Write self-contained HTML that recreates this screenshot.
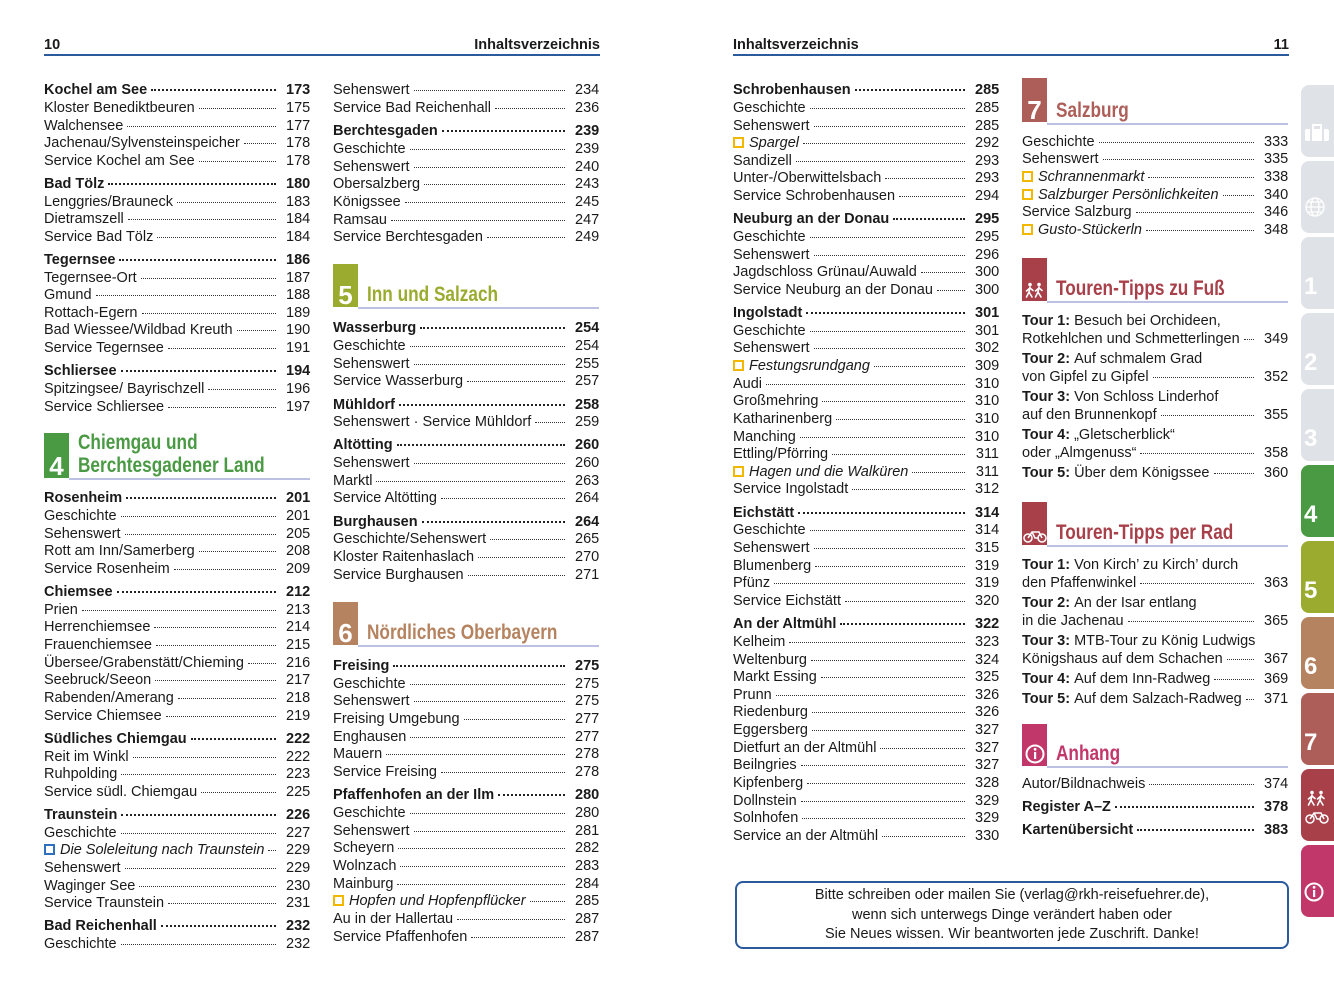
<!DOCTYPE html>
<html><head><meta charset="utf-8">
<style>
*{margin:0;padding:0;box-sizing:border-box}
body{width:1334px;height:1000px;background:#fff;position:relative;overflow:hidden;font-family:"Liberation Sans",sans-serif;color:#1a1a1a}
.hdr{position:absolute;top:37px;font-weight:bold;font-size:14.5px}
.hline{position:absolute;top:54px;height:2px;background:#2a5a9c}
.it{position:absolute;height:18px;display:flex;align-items:baseline;font-size:14.5px;line-height:18px;white-space:nowrap}
.it .ld{flex:1;border-bottom:1px dotted #333;margin:0 10px 0 4px;height:1px;transform:translateY(-3px)}
.it.b{font-weight:bold}
.it.b .ld{border-bottom:2px dotted #222}
.it .pg{width:24px;text-align:right}
.it i{font-style:italic}
.box{display:inline-block;width:11px;height:11px;border:2px solid #f2b800;margin-right:5px;transform:translateY(1px)}
.box.blue{border-color:#2e6fc0}
.hd{position:absolute}
.hd .sq{position:absolute;left:0;width:25px;color:#fff;font-weight:bold;font-size:26px;text-align:center}
.hd .tt{position:absolute;left:34px;font-weight:bold;font-size:21px;line-height:23px;white-space:nowrap;transform:scaleX(0.82);transform-origin:left center}
.hd .ul{position:absolute;height:2px;background:#bcc0e2}
.tab{position:absolute;left:1301px;width:40px;height:72px;border-radius:8px 0 0 8px;color:#fff;font-weight:bold;font-size:24px}
.tab span{position:absolute;left:3px;bottom:8px}
.note{position:absolute;left:735px;top:881px;width:554px;height:68px;border:2px solid #2a5a9c;border-radius:8px;text-align:center;font-size:14.5px;line-height:19.5px;padding-top:3px}
</style></head><body>
<div class="hdr" style="left:44px">10</div>
<div class="hdr" style="left:440px;width:160px;text-align:right">Inhaltsverzeichnis</div>
<div class="hline" style="left:44px;width:556px"></div>
<div class="hdr" style="left:733px">Inhaltsverzeichnis</div>
<div class="hdr" style="left:1250px;width:39px;text-align:right">11</div>
<div class="hline" style="left:733px;width:556px"></div>

<div class="note">Bitte schreiben oder mailen Sie (verlag@rkh-reisefuehrer.de),<br>wenn sich unterwegs Dinge verändert haben oder<br>Sie Neues wissen. Wir beantworten jede Zuschrift. Danke!</div>

<script>
const cols=[44,333,733,1022];
const W=266;
const entries=[
[0,'b','Kochel am See','173',89],[0,'n','Kloster Benediktbeuren','175',107],[0,'n','Walchensee','177',125],[0,'n','Jachenau/Sylvensteinspeicher','178',142],[0,'n','Service Kochel am See','178',160],
[0,'b','Bad Tölz','180',183],[0,'n','Lenggries/Brauneck','183',201],[0,'n','Dietramszell','184',218],[0,'n','Service Bad Tölz','184',236],
[0,'b','Tegernsee','186',259],[0,'n','Tegernsee-Ort','187',277],[0,'n','Gmund','188',294],[0,'n','Rottach-Egern','189',312],[0,'n','Bad Wiessee/Wildbad Kreuth','190',329],[0,'n','Service Tegernsee','191',347],
[0,'b','Schliersee','194',370],[0,'n','Spitzingsee/ Bayrischzell','196',388],[0,'n','Service Schliersee','197',406],
[0,'b','Rosenheim','201',497],[0,'n','Geschichte','201',515],[0,'n','Sehenswert','205',533],[0,'n','Rott am Inn/Samerberg','208',550],[0,'n','Service Rosenheim','209',568],
[0,'b','Chiemsee','212',591],[0,'n','Prien','213',609],[0,'n','Herrenchiemsee','214',626],[0,'n','Frauenchiemsee','215',644],[0,'n','Übersee/Grabenstätt/Chieming','216',662],[0,'n','Seebruck/Seeon','217',679],[0,'n','Rabenden/Amerang','218',697],[0,'n','Service Chiemsee','219',715],
[0,'b','Südliches Chiemgau','222',738],[0,'n','Reit im Winkl','222',756],[0,'n','Ruhpolding','223',773],[0,'n','Service südl. Chiemgau','225',791],
[0,'b','Traunstein','226',814],[0,'n','Geschichte','227',832],[0,'ib','Die Soleleitung nach Traunstein','229',849],[0,'n','Sehenswert','229',867],[0,'n','Waginger See','230',885],[0,'n','Service Traunstein','231',902],
[0,'b','Bad Reichenhall','232',925],[0,'n','Geschichte','232',943],
[1,'n','Sehenswert','234',89],[1,'n','Service Bad Reichenhall','236',107],
[1,'b','Berchtesgaden','239',130],[1,'n','Geschichte','239',148],[1,'n','Sehenswert','240',166],[1,'n','Obersalzberg','243',183],[1,'n','Königssee','245',201],[1,'n','Ramsau','247',219],[1,'n','Service Berchtesgaden','249',236],
[1,'b','Wasserburg','254',327],[1,'n','Geschichte','254',345],[1,'n','Sehenswert','255',363],[1,'n','Service Wasserburg','257',380],
[1,'b','Mühldorf','258',404],[1,'n','Sehenswert · Service Mühldorf','259',421],
[1,'b','Altötting','260',444],[1,'n','Sehenswert','260',462],[1,'n','Marktl','263',480],[1,'n','Service Altötting','264',497],
[1,'b','Burghausen','264',521],[1,'n','Geschichte/Sehenswert','265',538],[1,'n','Kloster Raitenhaslach','270',556],[1,'n','Service Burghausen','271',574],
[1,'b','Freising','275',665],[1,'n','Geschichte','275',683],[1,'n','Sehenswert','275',700],[1,'n','Freising Umgebung','277',718],[1,'n','Enghausen','277',736],[1,'n','Mauern','278',753],[1,'n','Service Freising','278',771],
[1,'b','Pfaffenhofen an der Ilm','280',794],[1,'n','Geschichte','280',812],[1,'n','Sehenswert','281',830],[1,'n','Scheyern','282',847],[1,'n','Wolnzach','283',865],[1,'n','Mainburg','284',883],[1,'i','Hopfen und Hopfenpflücker','285',900],[1,'n','Au in der Hallertau','287',918],[1,'n','Service Pfaffenhofen','287',936],
[2,'b','Schrobenhausen','285',89],[2,'n','Geschichte','285',107],[2,'n','Sehenswert','285',125],[2,'i','Spargel','292',142],[2,'n','Sandizell','293',160],[2,'n','Unter-/Oberwittelsbach','293',177],[2,'n','Service Schrobenhausen','294',195],
[2,'b','Neuburg an der Donau','295',218],[2,'n','Geschichte','295',236],[2,'n','Sehenswert','296',254],[2,'n','Jagdschloss Grünau/Auwald','300',271],[2,'n','Service Neuburg an der Donau','300',289],
[2,'b','Ingolstadt','301',312],[2,'n','Geschichte','301',330],[2,'n','Sehenswert','302',347],[2,'i','Festungsrundgang','309',365],[2,'n','Audi','310',383],[2,'n','Großmehring','310',400],[2,'n','Katharinenberg','310',418],[2,'n','Manching','310',436],[2,'n','Ettling/Pförring','311',453],[2,'i','Hagen und die Walküren','311',471],[2,'n','Service Ingolstadt','312',488],
[2,'b','Eichstätt','314',512],[2,'n','Geschichte','314',529],[2,'n','Sehenswert','315',547],[2,'n','Blumenberg','319',565],[2,'n','Pfünz','319',582],[2,'n','Service Eichstätt','320',600],
[2,'b','An der Altmühl','322',623],[2,'n','Kelheim','323',641],[2,'n','Weltenburg','324',659],[2,'n','Markt Essing','325',676],[2,'n','Prunn','326',694],[2,'n','Riedenburg','326',711],[2,'n','Eggersberg','327',729],[2,'n','Dietfurt an der Altmühl','327',747],[2,'n','Beilngries','327',764],[2,'n','Kipfenberg','328',782],[2,'n','Dollnstein','329',800],[2,'n','Solnhofen','329',817],[2,'n','Service an der Altmühl','330',835],
[3,'n','Geschichte','333',141],[3,'n','Sehenswert','335',158],[3,'i','Schrannenmarkt','338',176],[3,'i','Salzburger Persönlichkeiten','340',194],[3,'n','Service Salzburg','346',211],[3,'i','Gusto-Stückerln','348',229],
[3,'t','Tour 1:|Besuch bei Orchideen,','',320],[3,'n','Rotkehlchen und Schmetterlingen','349',338],
[3,'t','Tour 2:|Auf schmalem Grad','',358],[3,'n','von Gipfel zu Gipfel','352',376],
[3,'t','Tour 3:|Von Schloss Linderhof','',396],[3,'n','auf den Brunnenkopf','355',414],
[3,'t','Tour 4:|„Gletscherblick“','',434],[3,'n','oder „Almgenuss“','358',452],
[3,'t','Tour 5:|Über dem Königssee','360',472],
[3,'t','Tour 1:|Von Kirch’ zu Kirch’ durch','',564],[3,'n','den Pfaffenwinkel','363',582],
[3,'t','Tour 2:|An der Isar entlang','',602],[3,'n','in die Jachenau','365',620],
[3,'t','Tour 3:|MTB-Tour zu König Ludwigs','',640],[3,'n','Königshaus auf dem Schachen','367',658],
[3,'t','Tour 4:|Auf dem Inn-Radweg','369',678],[3,'t','Tour 5:|Auf dem Salzach-Radweg','371',698],
[3,'n','Autor/Bildnachweis','374',783],[3,'b','Register A–Z','378',806],[3,'b','Kartenübersicht','383',829]
];
const heads=[
[0,'4',['Chiemgau und','Berchtesgadener Land'],'#4a9a44',433,45,478],
[1,'5',['Inn und Salzach'],'#9bab2f',264,43,307],
[1,'6',['Nördliches Oberbayern'],'#b5835f',602,43,645],
[3,'7',['Salzburg'],'#ad5e58',78,44,123],
[3,'walk',['Touren-Tipps zu Fuß'],'#a8404a',258,43,301],
[3,'bike',['Touren-Tipps per Rad'],'#a8404a',502,43,545],
[3,'info',['Anhang'],'#c2376a',724,42,766]
];
const tabLabels=['suitcase','globe','1','2','3','4','5','6','7','tours','info'];
const tabColors=['#dfe2e6','#dfe2e6','#dfe2e6','#dfe2e6','#dfe2e6','#4a9a44','#9bab2f','#b5835f','#ad5e58','#a8404a','#c2376a'];

const walker=(x)=>'<g transform="translate('+x+',0)" fill="none" stroke="#fff" stroke-width="1.6" stroke-linecap="round"><circle cx="5" cy="2.5" r="1.8" fill="#fff" stroke="none"/><path d="M5 5L4 10L1.5 15M4 10L7 15M5 6L1.5 9M5 6L8 8.5"/></g>';
const bike='<circle cx="5" cy="9" r="4" fill="none" stroke="#fff" stroke-width="1.5"/><circle cx="19" cy="9" r="4" fill="none" stroke="#fff" stroke-width="1.5"/><path d="M5 9L9 3H16L19 9M9 3L12 9H16" fill="none" stroke="#fff" stroke-width="1.5"/>';
function icon(k){
 if(k==='walk')return '<svg width="20" height="17" viewBox="0 0 20 17">'+walker(0)+walker(9)+'</svg>';
 if(k==='bike')return '<svg width="24" height="14" viewBox="0 0 24 14">'+bike+'</svg>';
 if(k==='info')return '<svg width="20" height="20" viewBox="0 0 20 20"><circle cx="10" cy="10" r="8.5" fill="none" stroke="#fff" stroke-width="2"/><rect x="9" y="8" width="2.2" height="7" fill="#fff"/><circle cx="10.1" cy="5.3" r="1.4" fill="#fff"/></svg>';
 if(k==='suitcase')return '<svg width="26" height="18" viewBox="0 0 26 18"><rect x="1" y="5" width="24" height="12" rx="2" fill="#fff"/><rect x="9" y="1" width="8" height="5" fill="none" stroke="#fff" stroke-width="2"/><rect x="6" y="5" width="2" height="12" fill="#dfe2e6"/><rect x="18" y="5" width="2" height="12" fill="#dfe2e6"/></svg>';
 if(k==='globe')return '<svg width="22" height="22" viewBox="0 0 22 22"><g fill="none" stroke="#fff" stroke-width="1.3"><circle cx="11" cy="11" r="9"/><ellipse cx="11" cy="11" rx="4" ry="9"/><path d="M2 11H20M3.5 6H18.5M3.5 16H18.5"/></g></svg>';
 if(k==='tours')return '<svg width="26" height="36" viewBox="0 0 26 36"><g transform="translate(3,0)">'+walker(0)+walker(9)+'</g><g transform="translate(1,20)">'+bike+'</g></svg>';
 return k;
}

entries.forEach(e=>{
 const [c,t,txt,pg,y]=e;
 const d=document.createElement('div');
 d.className='it'+(t==='b'?' b':'');
 
 
 d.style.left=cols[c]+'px';d.style.top=(y-8)+'px';d.style.width=W+'px';
 let h;
 if(t==='i'||t==='ib')h='<span class="box'+(t==='ib'?' blue':'')+'"></span><i>'+txt+'</i>';
 else if(t==='t'){const p=txt.split('|');h='<b>'+p[0]+'</b>&nbsp;'+p[1];}
 else h=txt;
 if(pg!=='')h+='<span class="ld"></span><span class="pg">'+pg+'</span>';
 d.innerHTML=h;
 document.body.appendChild(d);
});

heads.forEach(hh=>{
 const [c,lab,lines,col,top,hgt,uy]=hh;
 const d=document.createElement('div');
 d.className='hd';
 
 
 d.style.left=cols[c]+'px';d.style.top='0px';
 const isNum=/^\d$/.test(lab);
 let h='<div class="sq" style="top:'+top+'px;height:'+hgt+'px;background:'+col+';'+(isNum?'line-height:'+(hgt*2-24)+'px':'line-height:22px;padding-top:'+(hgt-22)+'px')+'">'+(isNum?lab:icon(lab))+'</div>';
 const lh=23;
 lines.forEach((l,i)=>{h+='<div class="tt" style="color:'+col+';top:'+(uy-1-lh*(lines.length-i))+'px">'+l+'</div>';});
 h+='<div class="ul" style="left:25px;width:'+(W-25)+'px;top:'+uy+'px"></div>';
 d.innerHTML=h;
 document.body.appendChild(d);
});

tabLabels.forEach((l,i)=>{
 const d=document.createElement('div');
 d.className='tab';
 
 
 d.style.top=(85+76*i)+'px';d.style.background=tabColors[i];
 d.innerHTML='<span>'+icon(l)+'</span>';
 document.body.appendChild(d);
});
</script>
</body></html>
